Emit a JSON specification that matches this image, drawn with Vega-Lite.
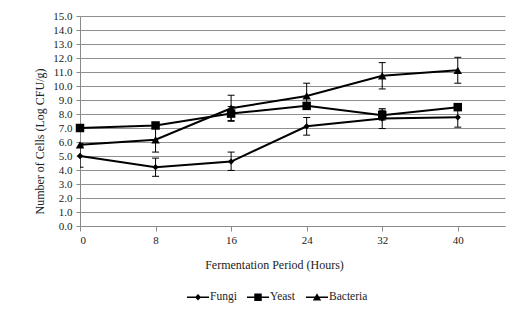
{
  "$schema": "https://vega.github.io/schema/vega-lite/v6.json",
  "width": 425,
  "height": 210,
  "autosize": {"type": "none"},
  "padding": {"left": 80, "top": 16, "right": 20, "bottom": 87},
  "background": "white",
  "config": {
    "font": "Liberation Serif",
    "view": {"stroke": null},
    "axis": {
      "labelFont": "Liberation Serif",
      "titleFont": "Liberation Serif",
      "labelFontSize": 11,
      "titleFontSize": 12,
      "titleFontWeight": "normal",
      "labelColor": "#222222",
      "titleColor": "#222222",
      "domainColor": "#8a8a8a",
      "tickColor": "#8a8a8a",
      "gridColor": "#8f8f8f",
      "tickSize": 5,
      "labelOverlap": false
    }
  },
  "resolve": {"scale": {"shape": "independent"}},
  "data": {
    "values": [
      {"series": "Fungi", "hour": 0, "value": 5.0, "lo": 4.2, "hi": 5.8},
      {"series": "Fungi", "hour": 8, "value": 4.2, "lo": 3.55, "hi": 4.85},
      {"series": "Fungi", "hour": 16, "value": 4.6, "lo": 3.97, "hi": 5.28},
      {"series": "Fungi", "hour": 24, "value": 7.12, "lo": 6.49, "hi": 7.75},
      {"series": "Fungi", "hour": 32, "value": 7.67, "lo": 6.96, "hi": 8.38},
      {"series": "Fungi", "hour": 40, "value": 7.76, "lo": 7.06, "hi": 8.46},
      {"series": "Yeast", "hour": 0, "value": 7.0, "lo": 6.85, "hi": 7.15},
      {"series": "Yeast", "hour": 8, "value": 7.18, "lo": 7.0, "hi": 7.36},
      {"series": "Yeast", "hour": 16, "value": 8.03, "lo": 7.53, "hi": 8.53},
      {"series": "Yeast", "hour": 24, "value": 8.58, "lo": 8.4, "hi": 8.76},
      {"series": "Yeast", "hour": 32, "value": 7.92, "lo": 7.57, "hi": 8.27},
      {"series": "Yeast", "hour": 40, "value": 8.49, "lo": 8.3, "hi": 8.68},
      {"series": "Bacteria", "hour": 0, "value": 5.8, "lo": 5.7, "hi": 5.9},
      {"series": "Bacteria", "hour": 8, "value": 6.16, "lo": 5.28, "hi": 7.04},
      {"series": "Bacteria", "hour": 16, "value": 8.41, "lo": 7.48, "hi": 9.34},
      {"series": "Bacteria", "hour": 24, "value": 9.29, "lo": 8.39, "hi": 10.2},
      {"series": "Bacteria", "hour": 32, "value": 10.73, "lo": 9.79, "hi": 11.67},
      {"series": "Bacteria", "hour": 40, "value": 11.12, "lo": 10.2, "hi": 12.05}
    ]
  },
  "layer": [
    {
      "mark": {"type": "line", "color": "black", "strokeWidth": 2},
      "encoding": {
        "x": {
          "field": "hour",
          "type": "quantitative",
          "scale": {"domain": [0, 45], "nice": false},
          "axis": {
            "values": [0, 8, 16, 24, 32, 40],
            "tickCount": 6,
            "grid": false,
            "title": "Fermentation Period (Hours)",
            "titleX": 194,
            "titleY": 38,
            "titleBaseline": "middle",
            "titleAnchor": "middle",
            "titleAlign": "center",
            "labelPadding": 3
          }
        },
        "y": {
          "field": "value",
          "type": "quantitative",
          "scale": {"domain": [0, 15], "nice": false},
          "axis": {
            "values": [0, 1, 2, 3, 4, 5, 6, 7, 8, 9, 10, 11, 12, 13, 14, 15],
            "tickCount": 16,
            "format": ".1f",
            "grid": true,
            "title": "Number of Cells (Log CFU/g)",
            "titleX": -41,
            "titleY": 125,
            "titleAngle": -90,
            "titleAlign": "center",
            "titleBaseline": "middle",
            "labelPadding": 4,
            "tickSize": 4
          }
        },
        "detail": {"field": "series", "type": "nominal"}
      }
    },
    {
      "mark": {"type": "rule", "color": "black", "strokeWidth": 1, "clip": true},
      "encoding": {
        "x": {"field": "hour", "type": "quantitative"},
        "y": {"field": "lo", "type": "quantitative"},
        "y2": {"field": "hi"}
      }
    },
    {
      "mark": {"type": "tick", "orient": "horizontal", "color": "black", "size": 7, "thickness": 1, "opacity": 1, "clip": true},
      "encoding": {
        "x": {"field": "hour", "type": "quantitative"},
        "y": {"field": "lo", "type": "quantitative"}
      }
    },
    {
      "mark": {"type": "tick", "orient": "horizontal", "color": "black", "size": 7, "thickness": 1, "opacity": 1, "clip": true},
      "encoding": {
        "x": {"field": "hour", "type": "quantitative"},
        "y": {"field": "hi", "type": "quantitative"}
      }
    },
    {
      "mark": {"type": "point", "filled": true, "color": "black", "opacity": 1},
      "encoding": {
        "x": {"field": "hour", "type": "quantitative"},
        "y": {"field": "value", "type": "quantitative"},
        "shape": {
          "field": "series",
          "type": "nominal",
          "scale": {
            "domain": ["Fungi", "Yeast", "Bacteria"],
            "range": ["diamond", "square", "triangle-up"]
          },
          "legend": null
        },
        "size": {
          "condition": {"test": "datum.series === 'Fungi'", "value": 40},
          "value": 72
        }
      }
    },
    {
      "mark": {"type": "point", "filled": true, "color": "black", "opacity": 0},
      "encoding": {
        "x": {"field": "hour", "type": "quantitative"},
        "y": {"field": "value", "type": "quantitative"},
        "shape": {
          "field": "series",
          "type": "nominal",
          "scale": {
            "domain": ["Fungi", "Yeast", "Bacteria"],
            "range": [
              "M-1,-0.07H1V0.07H-1ZM0,-0.3L0.28,0L0,0.3L-0.28,0Z",
              "M-1,-0.07H1V0.07H-1ZM-0.34,-0.34H0.34V0.34H-0.34Z",
              "M-1,-0.07H1V0.07H-1ZM0,-0.36L0.38,0.3H-0.38Z"
            ]
          },
          "legend": {
            "title": null,
            "orient": "none",
            "direction": "horizontal",
            "legendX": 107,
            "legendY": 270,
            "symbolSize": 484,
            "symbolFillColor": "black",
            "symbolStrokeColor": "black",
            "symbolStrokeWidth": 0,
            "symbolOpacity": 1,
            "labelFont": "Liberation Serif",
            "labelFontSize": 11.5,
            "labelColor": "#222222",
            "labelOffset": 1,
            "columnPadding": 10
          }
        }
      }
    }
  ]
}
